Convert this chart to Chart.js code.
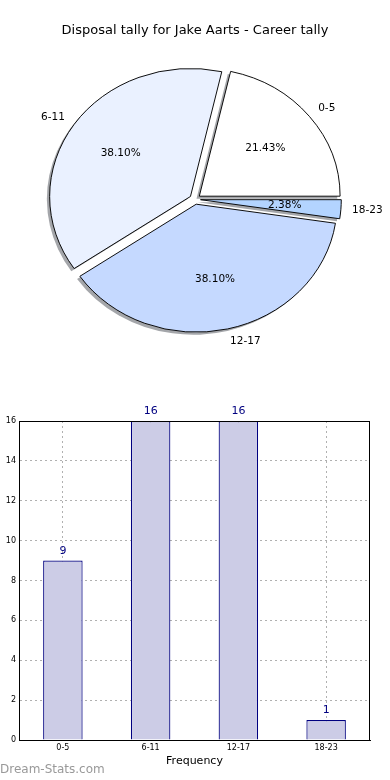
<!DOCTYPE html>
<html>
<head>
<meta charset="utf-8">
<script src="https://cdn.jsdelivr.net/npm/chart.js@4.4.1/dist/chart.umd.min.js"></script>
<style>
  html, body { margin: 0; padding: 0; background: #fff; }
  body { width: 390px; height: 780px; position: relative; overflow: hidden; }
  #pieChart { position: absolute; left: 0; top: 0; }
  #barChart { position: absolute; left: 0; top: 400px; }
  #mark { position: absolute; left: 0; top: 762px; font: 12px "DejaVu Sans", sans-serif; color: #999; }
</style>
</head>
<body>
<canvas id="pieChart" width="390" height="400"></canvas>
<canvas id="barChart" width="390" height="380"></canvas>
<div id="mark">Dream-Stats.com</div>
<script>
'use strict';

// ── Data
const categories = ['0-5', '6-11', '12-17', '18-23'];
const tallies = [9, 16, 16, 1];
const sliceColors = ['#ffffff', '#eaf1ff', '#c5d9ff', '#b3d4ff'];
const yTicks = [0, 2, 4, 6, 8, 10, 12, 14, 16];

const TITLE = 'Disposal tally for Jake Aarts - Career tally';
const Y_TITLE = 'Occurrences';

// pie look (matplotlib style: stretched, exploded, shadowed)
const PIE_R = 128;
const X_STRETCH = 1.1;
const EXPLODE = 5;
const SHADOW_DX = -2.8;
const SHADOW_DY = 2.6;

Chart.defaults.font.family = '"DejaVu Sans", sans-serif';
Chart.defaults.color = '#000';

// chart.js draws clockwise, matplotlib counter-clockwise from 3 o'clock
const pieOrder = categories.map((_, i) => i).reverse();
const total = tallies.reduce((a, b) => a + b, 0);

const piePlugin = {
    id: 'mplPie',
    beforeDatasetDraw(chart, args) {
        const ctx = chart.ctx;
        const arcs = args.meta.data;
        const cx = arcs[0].x, cy = arcs[0].y;
        ctx.save();
        ctx.translate(cx, cy);
        ctx.scale(X_STRETCH, 1);
        ctx.translate(-cx, -cy);
        // shadows first
        arcs.forEach(arc => {
            const mid = (arc.startAngle + arc.endAngle) / 2;
            const ox = cx + EXPLODE * Math.cos(mid) + SHADOW_DX / X_STRETCH;
            const oy = cy + EXPLODE * Math.sin(mid) + SHADOW_DY;
            ctx.beginPath();
            ctx.moveTo(ox, oy);
            ctx.arc(ox, oy, arc.outerRadius, arc.startAngle, arc.endAngle);
            ctx.closePath();
            ctx.fillStyle = '#a4a6aa';
            ctx.fill();
        });
        arcs.forEach(arc => {
            const mid = (arc.startAngle + arc.endAngle) / 2;
            ctx.save();
            ctx.translate(EXPLODE * Math.cos(mid), EXPLODE * Math.sin(mid));
            arc.draw(ctx);
            ctx.restore();
        });
        ctx.restore();
        return false;
    },
    afterDatasetsDraw(chart) {
        const ctx = chart.ctx;
        const meta = chart.getDatasetMeta(0);
        ctx.save();
        ctx.font = '10.5px "DejaVu Sans", sans-serif';
        ctx.fillStyle = '#000';
        ctx.textBaseline = 'middle';
        meta.data.forEach((arc, i) => {
            const idx = pieOrder[i];
            const mid = (arc.startAngle + arc.endAngle) / 2;
            const c = Math.cos(mid), s = Math.sin(mid);
            const bx = arc.x + EXPLODE * c * X_STRETCH;
            const by = arc.y + EXPLODE * s;
            const r = arc.outerRadius;
            ctx.textAlign = c > 0 ? 'left' : 'right';
            ctx.fillText(categories[idx], bx + 1.08 * r * c * X_STRETCH, by + 1.1 * r * s);
            ctx.textAlign = 'center';
            const pct = (tallies[idx] / total * 100).toFixed(2) + '%';
            ctx.fillText(pct, bx + 0.6 * r * c * X_STRETCH, by + 0.6 * r * s);
        });
        ctx.restore();
    }
};

new Chart(document.getElementById('pieChart'), {
    type: 'pie',
    data: {
        labels: pieOrder.map(i => categories[i]),
        datasets: [{
            data: pieOrder.map(i => tallies[i]),
            backgroundColor: pieOrder.map(i => sliceColors[i]),
            borderColor: '#000',
            borderWidth: 0.9
        }]
    },
    options: {
        responsive: false,
        animation: false,
        rotation: 90,
        radius: PIE_R,
        layout: { padding: { left: 0, right: 0, top: 0, bottom: 40 } },
        plugins: {
            legend: { display: false },
            tooltip: { enabled: false },
            title: {
                display: true,
                text: TITLE,
                color: '#000',
                font: { size: 13, weight: 'normal' },
                padding: { top: 23, bottom: 0 }
            }
        }
    },
    plugins: [piePlugin]
});

const barPlugin = {
    id: 'mplBar',
    afterDatasetsDraw(chart) {
        const ctx = chart.ctx;
        const meta = chart.getDatasetMeta(0);
        ctx.save();
        ctx.font = '11px "DejaVu Sans", sans-serif';
        ctx.fillStyle = '#000080';
        ctx.textAlign = 'center';
        ctx.textBaseline = 'middle';
        meta.data.forEach((bar, i) => {
            ctx.fillText(String(tallies[i]), bar.x, bar.y - 9.5);
        });
        ctx.restore();
    },
    afterDraw(chart) {
        const { ctx, chartArea: a } = chart;
        ctx.save();
        ctx.strokeStyle = '#000';
        ctx.lineWidth = 1;
        ctx.strokeRect(a.left + 0.5, a.top + 0.5, a.right - a.left - 1, a.bottom - a.top);
        // y title, clipped at the page edge like the original
        ctx.translate(0, (a.top + a.bottom) / 2);
        ctx.rotate(-Math.PI / 2);
        ctx.font = '11px "DejaVu Sans", sans-serif';
        ctx.fillStyle = '#000';
        ctx.textAlign = 'center';
        ctx.textBaseline = 'middle';
        ctx.fillText(Y_TITLE, 0, -3);
        ctx.restore();
    }
};

const gridStyle = { color: '#b0b0b0', lineWidth: 1, drawTicks: false };

new Chart(document.getElementById('barChart'), {
    type: 'bar',
    data: {
        labels: categories,
        datasets: [{
            data: tallies,
            backgroundColor: '#ccccE6',
            borderColor: '#000080',
            borderWidth: 1.2,
            barPercentage: 0.45,
            categoryPercentage: 1
        }]
    },
    options: {
        responsive: false,
        animation: false,
        layout: { padding: { top: 21, right: 20, left: 0, bottom: 0 } },
        plugins: {
            legend: { display: false },
            tooltip: { enabled: false }
        },
        scales: {
            x: {
                z: 1,
                offset: true,
                grid: Object.assign({ offset: false }, gridStyle),
                border: { color: '#000', width: 1, dash: [2, 3] },
                ticks: { font: { size: 8 }, color: '#000', padding: 3 },
                title: {
                    display: true,
                    text: 'Frequency',
                    color: '#000',
                    font: { size: 11 },
                    padding: { top: 0, bottom: 12 }
                },
                afterFit(scale) { scale.height = 40; }
            },
            y: {
                z: 1,
                min: yTicks[0],
                max: yTicks[yTicks.length - 1],
                afterBuildTicks(scale) { scale.ticks = yTicks.map(v => ({ value: v })); },
                grid: gridStyle,
                border: { color: '#000', width: 1, dash: [2, 3] },
                ticks: { font: { size: 8 }, color: '#000', padding: 3 },
                afterFit(scale) { scale.width = 19; }
            }
        }
    },
    plugins: [barPlugin]
});
</script>
</body>
</html>
